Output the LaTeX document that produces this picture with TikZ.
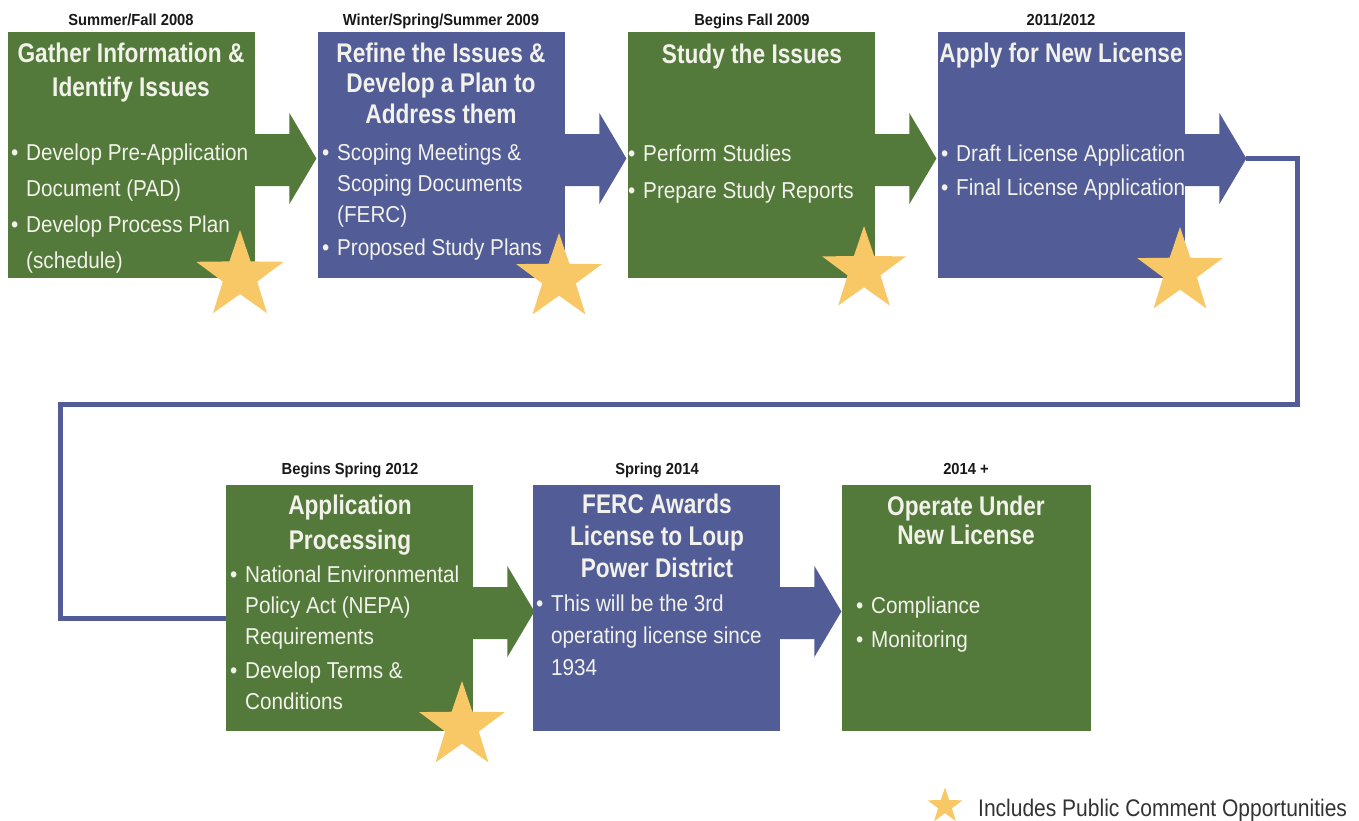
\documentclass[tikz,border=0pt]{standalone}
\usepackage{fontspec}
\setmainfont{Liberation Sans}
\newfontfamily\ttlfont[FakeStretch=0.84]{Liberation Sans}
\newfontfamily\bodyfont[FakeStretch=0.9]{Liberation Sans}
\newfontfamily\datefont[FakeStretch=0.92]{Liberation Sans}
\newfontfamily\legfont[FakeStretch=0.875]{Liberation Sans}
\usetikzlibrary{shapes.geometric,calc}
\definecolor{grn}{HTML}{53793B}
\definecolor{blu}{HTML}{525C96}
\definecolor{strc}{HTML}{F8C867}
\definecolor{txt}{HTML}{F2F2EA}
\newcommand{\bu}{\makebox[15pt][l]{\textbullet}}
\newcommand{\nb}{\hspace*{15pt}}
\newcommand{\tfs}[1]{\ttlfont\bfseries\fontsize{27}{#1}\selectfont}
\newcommand{\bfs}[1]{\bodyfont\fontsize{23}{#1}\selectfont}
\newcommand{\blockarr}[2]{\fill[#2] ($(#1.north east)+(-1,102)$) -- ($(#1.north east)+(34,102)$) -- ($(#1.north east)+(34,81)$) -- ($(#1.north east)+(61,126.5)$) -- ($(#1.north east)+(34,172)$) -- ($(#1.north east)+(34,154)$) -- ($(#1.north east)+(-1,154)$) -- cycle;}
\tikzset{
  box/.style={anchor=north west, minimum width=247pt, minimum height=246pt, inner sep=0pt, draw=none},
  ttl/.style={anchor=base, inner sep=0pt, text=txt},
  bdy/.style={anchor=base west, inner sep=0pt, text=txt},
  dte/.style={anchor=base, inner sep=0pt, text=black!90, font=\datefont\bfseries\fontsize{16}{16}\selectfont},
  strs/.style={star, star points=5, star point ratio=2.55, fill=strc, inner sep=0pt, draw=none},
  conn/.style={draw=blu, line width=5pt}
}
\begin{document}
\begin{tikzpicture}[x=1pt,y=-1pt]
\useasboundingbox (0,0) rectangle (1359,820);
\fill[white] (0,0) rectangle (1359,820);
% boxes
\node[box, fill=grn] (b1) at (8,32) {};
\node[box, fill=blu] (b2) at (318,32) {};
\node[box, fill=grn] (b3) at (628,32) {};
\node[box, fill=blu] (b4) at (938,32) {};
\node[box, fill=grn] (b5) at (226,485) {};
\node[box, fill=blu] (b6) at (533,485) {};
\node[box, fill=grn, minimum width=249pt] (b7) at (842,485) {};
% block arrows
\blockarr{b1}{grn}
\blockarr{b2}{blu}
\blockarr{b3}{grn}
\blockarr{b4}{blu}
\blockarr{b5}{grn}
\blockarr{b6}{blu}
% connector
\coordinate (tip4) at ($(b4.north east)+(61,126.5)$);
\coordinate (cR) at (1297,404);
\coordinate (cL) at (60,404);
\coordinate (e5) at ($(b5.north west)+(0,133)$);
\draw[conn] (tip4) -| (cR) -- (cL) |- (e5);
% dates
\node[dte] (d1) at (131,25) {Summer/Fall 2008};
\node[dte] (d2) at (441,25) {Winter/Spring/Summer 2009};
\node[dte] (d3) at (752,25) {Begins Fall 2009};
\node[dte] (d4) at (1061,25) {2011/2012};
\node[dte] (d5) at (350,474) {Begins Spring 2012};
\node[dte] (d6) at (657,474) {Spring 2014};
\node[dte] (d7) at (966,474) {2014 +};
% titles
\node[ttl, font=\tfs{34}] (t1) at (131,62) {\begin{tabular}[t]{@{}c@{}}Gather Information \&\\Identify Issues\end{tabular}};
\node[ttl, font=\tfs{30.5}] (t2) at (441,62) {\begin{tabular}[t]{@{}c@{}}Refine the Issues \&\\Develop a Plan to\\Address them\end{tabular}};
\node[ttl, font=\tfs{30}] (t3) at (752,63) {\begin{tabular}[t]{@{}c@{}}Study the Issues\end{tabular}};
\node[ttl, font=\tfs{30}] (t4) at (1061,62) {\begin{tabular}[t]{@{}c@{}}Apply for New License\end{tabular}};
\node[ttl, font=\tfs{35}] (t5) at (350,514) {\begin{tabular}[t]{@{}c@{}}Application\\Processing\end{tabular}};
\node[ttl, font=\tfs{32}] (t6) at (657,513) {\begin{tabular}[t]{@{}c@{}}FERC Awards\\License to Loup\\Power District\end{tabular}};
\node[ttl, font=\tfs{29}] (t7) at (966,515) {\begin{tabular}[t]{@{}c@{}}Operate Under\\New License\end{tabular}};
% bodies
\node[bdy, font=\bfs{36}] (p1) at (11,160) {\begin{tabular}[t]{@{}l@{}}\bu Develop Pre-Application\\\nb Document (PAD)\\\bu Develop Process Plan\\\nb (schedule)\end{tabular}};
\node[bdy, font=\bfs{31}] (p2) at (322,160) {\begin{tabular}[t]{@{}l@{}}\bu Scoping Meetings \&\\\nb Scoping Documents\\\nb (FERC)\\[2pt]\bu Proposed Study Plans\end{tabular}};
\node[bdy, font=\bfs{37}] (p3) at (628,161) {\begin{tabular}[t]{@{}l@{}}\bu Perform Studies\\\bu Prepare Study Reports\end{tabular}};
\node[bdy, font=\bfs{34}] (p4) at (941,161) {\begin{tabular}[t]{@{}l@{}}\bu Draft License Application\\\bu Final License Application\end{tabular}};
\node[bdy, font=\bfs{31}] (p5) at (230,582) {\begin{tabular}[t]{@{}l@{}}\bu National Environmental\\\nb Policy Act (NEPA)\\\nb Requirements\\[3pt]\bu Develop Terms \&\\\nb Conditions\end{tabular}};
\node[bdy, font=\bfs{32}] (p6) at (536,611) {\begin{tabular}[t]{@{}l@{}}\bu This will be the 3rd\\\nb operating license since\\\nb 1934\end{tabular}};
\node[bdy, font=\bfs{34}] (p7) at (856,613) {\begin{tabular}[t]{@{}l@{}}\bu Compliance\\\bu Monitoring\end{tabular}};
% stars
\node[strs, minimum size=92pt] (s1) at (240,276) {};
\node[strs, minimum size=90pt] (s2) at (559,278) {};
\node[strs, minimum size=88pt] (s3) at (864,270) {};
\node[strs, minimum size=90pt] (s4) at (1180,272) {};
\node[strs, minimum size=90pt] (s5) at (462,726) {};
\node[strs, minimum size=37pt] (s6) at (945,806) {};
% legend
\node[anchor=base west, inner sep=0pt, text=black!80, font=\legfont\fontsize{24}{24}\selectfont] (leg) at (978,816) {Includes Public Comment Opportunities};
\end{tikzpicture}
\end{document}
